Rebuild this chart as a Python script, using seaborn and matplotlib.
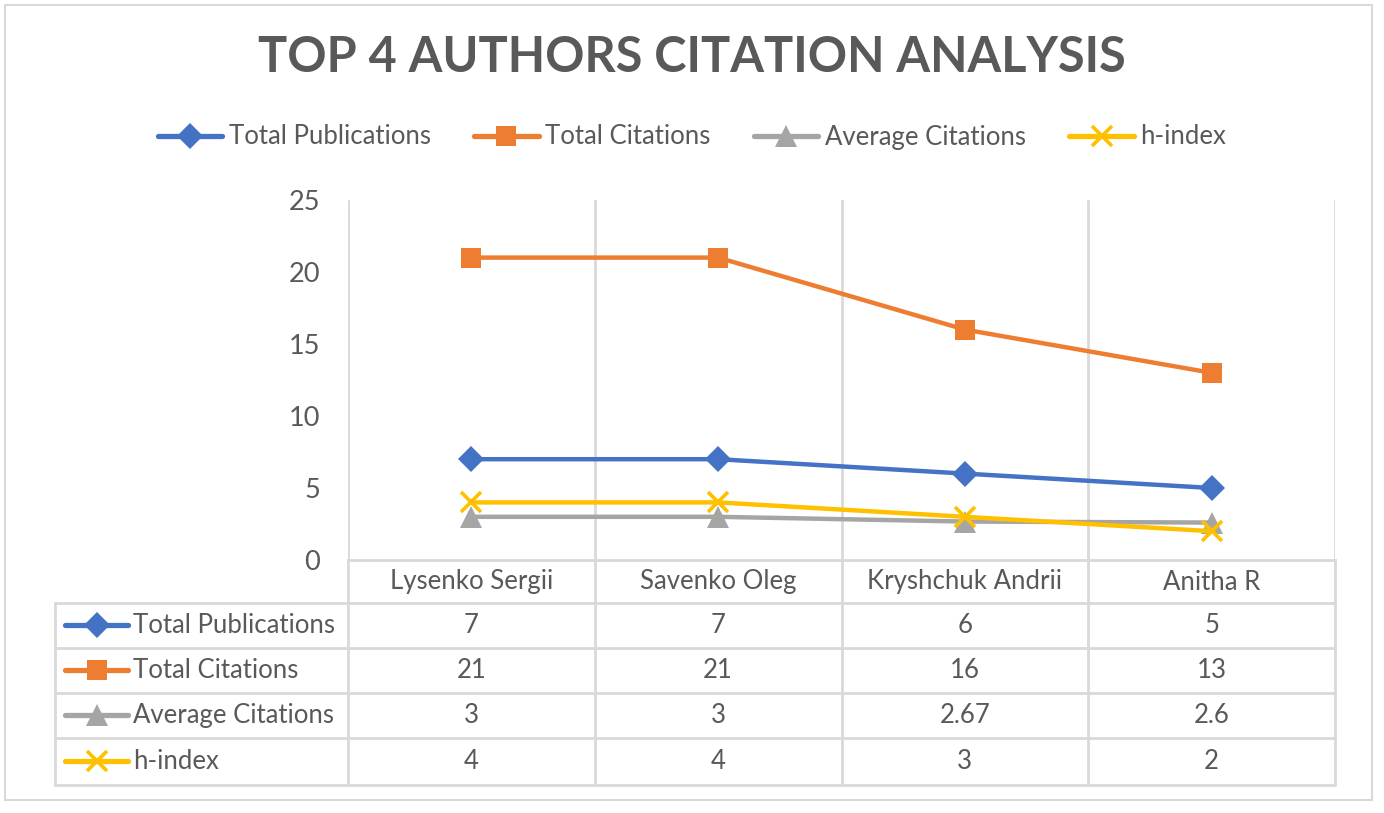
import seaborn as sns
from matplotlib import pyplot as plt
from matplotlib.lines import Line2D
from matplotlib.patches import Rectangle

authors = ["Lysenko Sergii", "Savenko Oleg", "Kryshchuk Andrii", "Anitha R"]
total_publications = [7, 7, 6, 5]
total_citations = [21, 21, 16, 13]
average_citations = [3, 3, 2.67, 2.6]
h_index = [4, 4, 3, 2]

series_names = ["Total Publications", "Total Citations", "Average Citations", "h-index"]
series_values = [total_publications, total_citations, average_citations, h_index]
colors = ["#4472C4", "#ED7D31", "#A5A5A5", "#FFC000"]
markers = ["D", "s", "^", "x"]
msizes = [13, 14, 16, 14]

GRID = "#D9D9D9"
TXT = "#595959"
W, H = 1384, 813
FS = 18.5


def fx(px):
    return px / W


def fy(py):
    return 1 - py / H


def marker_kw(m, c, ms):
    if m == "x":
        return dict(marker=m, markersize=ms, markeredgewidth=2.6, markeredgecolor=c)
    return dict(marker=m, markersize=ms, markeredgewidth=0)


def main():
    sns.set_theme(style="white")
    plt.rcParams["font.family"] = ["Lato", "DejaVu Sans"]

    fig = plt.figure(figsize=(13.84, 8.13), dpi=100)
    fig.patches.append(Rectangle((fx(5), fy(800)), fx(1367), 795 / H, transform=fig.transFigure,
                                 fill=False, edgecolor=GRID, linewidth=1.5))

    ax = fig.add_axes([fx(348), fy(560), fx(1335 - 348), (560 - 200) / H])
    for name, vals, c, m, ms in zip(series_names, series_values, colors, markers, msizes):
        sns.lineplot(x=authors, y=vals, color=c, linewidth=3.2, ax=ax, sort=False,
                     label=name, legend=False, **marker_kw(m, c, ms))
    ax.set_xlim(-0.5, len(authors) - 0.5)
    ax.set_ylim(0, 25)
    ax.set_yticks(range(0, 26, 5))
    ax.set_xticks([])
    ax.set_xlabel("")
    ax.set_ylabel("")
    ax.tick_params(axis="y", length=0, labelsize=19.5, labelcolor=TXT, pad=20)
    for s in ax.spines.values():
        s.set_visible(False)
    ax.spines["bottom"].set_visible(True)
    ax.spines["bottom"].set_color(GRID)
    ax.spines["bottom"].set_linewidth(2)
    for b in range(len(authors) + 1):
        ax.axvline(b - 0.5, color=GRID, linewidth=2, zorder=0)

    # data table
    tb = fig.add_axes([fx(55), fy(785), fx(1335 - 55), (785 - 560) / H])
    tb.set_xlim(55, 1335)
    tb.set_ylim(785, 560)
    tb.axis("off")
    rows = [560, 603, 648, 693, 738, 785]
    col_edges = [348 + i * (1335 - 348) / len(authors) for i in range(len(authors) + 1)]
    lw = 2
    for y in rows[1:]:
        tb.plot([55, 1335], [y, y], color=GRID, linewidth=lw, clip_on=False)
    tb.plot([55, 55], [603, 785], color=GRID, linewidth=lw, clip_on=False)
    for x in col_edges:
        tb.plot([x, x], [560, 785], color=GRID, linewidth=lw, clip_on=False)
    centers = [(col_edges[i] + col_edges[i + 1]) / 2 for i in range(len(authors))]
    for cx, name in zip(centers, authors):
        tb.text(cx, 582, name, ha="center", va="center", fontsize=FS, color=TXT)
    for r, (name, vals, c, m, ms) in enumerate(zip(series_names, series_values, colors, markers, msizes)):
        yc = (rows[r + 1] + rows[r + 2]) / 2
        tb.add_line(Line2D([65, 128], [yc, yc], color=c, linewidth=3.8))
        tb.add_line(Line2D([97], [yc], color=c, **marker_kw(m, c, ms)))
        tb.text(133, yc, name, ha="left", va="center", fontsize=FS, color=TXT)
        for cx, v in zip(centers, vals):
            tb.text(cx, yc, f"{v:g}", ha="center", va="center", fontsize=FS, color=TXT)

    handles = [Line2D([], [], color=c, linewidth=3.8, **marker_kw(m, c, ms))
               for c, m, ms in zip(colors, markers, msizes)]
    leg = fig.legend(handles, series_names, loc="center", bbox_to_anchor=(0.5, fy(137)),
                     ncol=4, frameon=False, fontsize=FS, handlelength=2.5,
                     handletextpad=0.25, columnspacing=1.7)
    for t in leg.get_texts():
        t.set_color(TXT)

    fig.text(0.5, fy(58), "TOP 4 AUTHORS CITATION ANALYSIS", ha="center", va="center",
             fontsize=35, fontweight="bold", color=TXT)

    fig.savefig("out.png", dpi=100, facecolor="white")


if __name__ == "__main__":
    main()
